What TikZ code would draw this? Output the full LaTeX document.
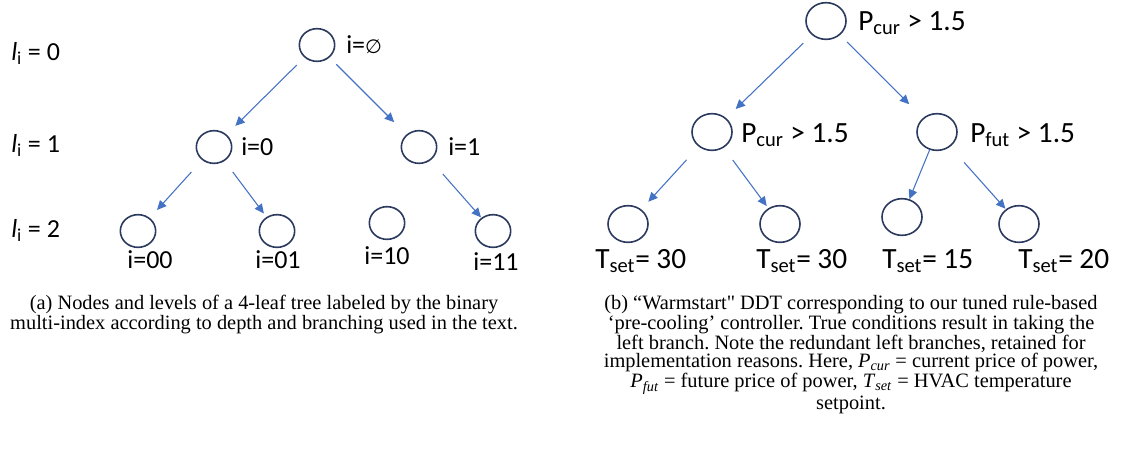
\documentclass[tikz,border=0pt]{standalone}
\usepackage{fontspec}
\setmainfont{Liberation Serif}[Ligatures=TeXOff]
\newfontfamily\treefont{Carlito}
\newfontfamily\symfont{DejaVu Sans}
\usetikzlibrary{arrows.meta,shapes.geometric}
\definecolor{circ}{HTML}{2B3A5E}
\definecolor{arr}{HTML}{4472C4}
\newcommand\tsub[1]{\textsubscript{#1}}
\frenchspacing
\begin{document}
\begin{tikzpicture}[x=0.75pt,y=-0.75pt,
  tn/.style={ellipse, draw=circ, line width=1.2pt, inner sep=0pt, minimum width=26.5pt, minimum height=24.5pt},
  tnb/.style={ellipse, draw=circ, line width=1.2pt, inner sep=0pt, minimum width=30pt, minimum height=27.5pt},
  ed/.style={draw=arr, line width=0.8pt, -{Triangle[length=7pt,width=6.5pt]}},
  lt/.style={font=\treefont\fontsize{19.5}{23}\selectfont, inner sep=0pt},
  rt/.style={font=\treefont\fontsize{22}{26}\selectfont, inner sep=0pt},
  captext/.style={font=\fontsize{15.3}{13.8}\selectfont, align=center, inner sep=0pt}]
\useasboundingbox (0,0) rectangle (1123,454);
% left tree
\node[tn] (A) at (317,45) {};
\node[tn] (A0) at (214,147) {};
\node[tn] (A1) at (419,147) {};
\node[tn] (A00) at (138,231) {};
\node[tn] (A01) at (277,231) {};
\node[tn] (A10) at (387,223) {};
\node[tn] (A11) at (493,231) {};
\draw[ed, shorten <=8.1pt, shorten >=9.2pt] (A) -- (A0);
\draw[ed, shorten <=7.2pt, shorten >=13pt] (A) -- (A1);
\draw[ed, shorten <=12pt, shorten >=8pt] (A0) -- (A00);
\draw[ed, shorten <=10.2pt, shorten >=3.2pt] (A0) -- (A01);
\draw[ed, shorten <=13.8pt, shorten >=0.4pt] (A1) -- (A11);
\node[lt, anchor=base west] (lA) at (346,53) {i={\symfont\fontsize{14.5}{14.5}\selectfont ∅}};
\node[lt, anchor=base west] (lA0) at (241,155) {i=0};
\node[lt, anchor=base west] (lA1) at (448,155) {i=1};
\node[lt, anchor=base] (lA00) at (150,268) {i=00};
\node[lt, anchor=base] (lA01) at (278,268) {i=01};
\node[lt, anchor=base] (lA10) at (387,264) {i=10};
\node[lt, anchor=base] (lA11) at (496,270) {i=11};
\node[lt, anchor=base west] (L0) at (11,60) {\textit{l}\tsub{i} = 0};
\node[lt, anchor=base west] (L1) at (11,152) {\textit{l}\tsub{i} = 1};
\node[lt, anchor=base west] (L2) at (11,237) {\textit{l}\tsub{i} = 2};
% right tree
\node[tnb] (B) at (826,21) {};
\node[tnb] (B0) at (712,132) {};
\node[tnb] (B1) at (937,132) {};
\node[tnb] (B00) at (628,224) {};
\node[tnb] (B01) at (780,224) {};
\node[tnb] (B10) at (902,217) {};
\node[tnb] (B11) at (1019,224) {};
\draw[ed, shorten <=8.8pt, shorten >=9.8pt] (B) -- (B0);
\draw[ed, shorten <=7.4pt, shorten >=14.5pt] (B) -- (B1);
\draw[ed, shorten <=13.4pt, shorten >=7.7pt] (B0) -- (B00);
\draw[ed, shorten <=11.4pt, shorten >=2pt] (B0) -- (B01);
\draw[ed, shorten <=0.2pt, shorten >=0pt] (B1) -- (B10);
\draw[ed, shorten <=15.7pt, shorten >=0.5pt] (B1) -- (B11);
\node[rt, anchor=base west] (lB) at (858,30) {P\tsub{cur} > 1.5};
\node[rt, anchor=base west] (lB0) at (741,142) {P\tsub{cur} > 1.5};
\node[rt, anchor=base west] (lB1) at (970,142) {P\tsub{fut} > 1.5};
\node[rt, anchor=base west] (lB00) at (595,268) {T\tsub{set}= 30};
\node[rt, anchor=base west] (lB01) at (756,268) {T\tsub{set}= 30};
\node[rt, anchor=base west] (lB10) at (882,268) {T\tsub{set}= 15};
\node[rt, anchor=base west] (lB11) at (1018,268) {T\tsub{set}= 20};
% captions
\node[captext, anchor=north] (capa) at (264,295) {(a) Nodes and levels of a 4-leaf tree labeled by the binary\\multi-index according to depth and branching used in the text.};
\node[captext, anchor=north] (capb) at (851,295) {(b) “Warmstart" DDT corresponding to our tuned rule-based\\‘pre-cooling’ controller. True conditions result in taking the\\left branch. Note the redundant left branches, retained for\\implementation reasons. Here, \textit{P}\textsubscript{\textit{cur}} = current price of power,\\\textit{P}\textsubscript{\textit{fut}} = future price of power, \textit{T}\textsubscript{\textit{set}} = HVAC temperature\\setpoint.};
\end{tikzpicture}
\end{document}
